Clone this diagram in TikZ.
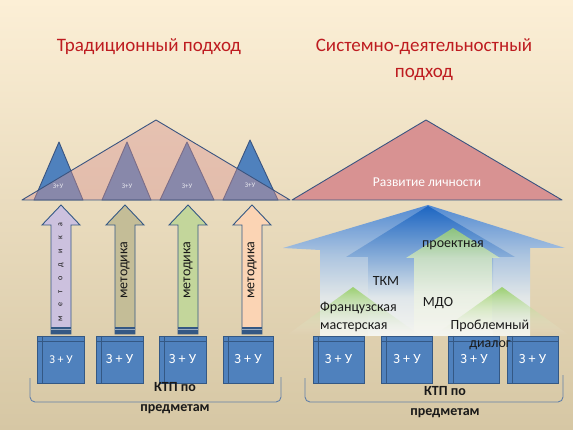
\documentclass[tikz,border=0pt]{standalone}
\usepackage{fontspec}
\setmainfont{Carlito}
\usetikzlibrary{fadings}
\tikzfading[name=fadedown, top color=transparent!0, bottom color=transparent!100]
\definecolor{bgtop}{RGB}{252,239,214}
\definecolor{bgmid}{RGB}{243,229,200}
\definecolor{bgbot}{RGB}{214,199,164}
\definecolor{titlered}{RGB}{190,28,32}
\definecolor{pinkred}{RGB}{216,146,146}
\definecolor{edgeblue}{RGB}{58,84,128}
\definecolor{boxblue}{RGB}{79,129,189}
\definecolor{boxedge}{RGB}{52,88,132}
\definecolor{lav}{RGB}{204,193,222}
\definecolor{khaki}{RGB}{196,189,151}
\definecolor{lgreen}{RGB}{195,214,155}
\definecolor{lpeach}{RGB}{251,212,180}
\definecolor{brk}{RGB}{98,128,168}
\definecolor{blueA}{RGB}{70,132,212}
\definecolor{blueB}{RGB}{20,96,192}
\definecolor{greenA}{RGB}{146,206,92}
\definecolor{paleend}{RGB}{246,246,240}
\definecolor{darktext}{RGB}{25,25,25}
\pgfdeclareverticalshading{bluefanA}{100bp}{color(0bp)=(paleend); color(25bp)=(paleend); color(40bp)=(blueA!12!paleend); color(56bp)=(blueA!45!paleend); color(75bp)=(blueA); color(100bp)=(blueA)}
\pgfdeclareverticalshading{bluefanB}{100bp}{color(0bp)=(paleend); color(25bp)=(paleend); color(40bp)=(blueB!10!paleend); color(53bp)=(blueB!45!paleend); color(75bp)=(blueB); color(100bp)=(blueB)}
\pgfdeclareverticalshading{greenfan}{100bp}{color(0bp)=(paleend); color(25bp)=(paleend); color(45bp)=(greenA!10!paleend); color(61bp)=(greenA!32!paleend); color(75bp)=(greenA!90!paleend); color(100bp)=(greenA!90!paleend)}
\begin{document}
\begin{tikzpicture}[x=1pt,y=-1pt,
  titletext/.style={text=titlered, font=\fontsize{19}{26}\selectfont, align=center, inner sep=0pt},
  smalltri/.style={draw=edgeblue, fill=boxblue, line width=0.9pt, line join=round},
  bigtri/.style={draw=edgeblue, line width=0.9pt, line join=round},
  uparrow/.style={draw=boxedge, line width=0.9pt, line join=miter},
  arrowtext/.style={rotate=90, font=\fontsize{14}{16}\selectfont, text=darktext, inner sep=0pt},
  zubox/.style={draw=boxedge, fill=boxblue, line width=0.8pt, minimum width=47pt, minimum height=47pt,
    inner sep=0pt, text=white, font=\fontsize{14}{16}\selectfont,
    path picture={
      \draw[boxedge, line width=0.7pt] ([yshift=-5pt]path picture bounding box.north west) -- ([yshift=-5pt]path picture bounding box.north east);
      \draw[boxedge, line width=0.7pt] ([xshift=5pt]path picture bounding box.north west) -- ([xshift=5pt]path picture bounding box.south west);}},
  tinylabel/.style={text=white, text opacity=0.8, font=\fontsize{7}{8}\selectfont, inner sep=0pt},
  righttext/.style={text=darktext, font=\fontsize{14}{18}\selectfont, inner sep=0pt},
  bracetext/.style={text=darktext, font=\bfseries\fontsize{14}{20}\selectfont, align=center, inner sep=0pt},
  bracket/.style={draw=brk, line width=0.9pt, rounded corners=5pt}
]
\useasboundingbox (0,0) rectangle (573,430);
% background
\shade[top color=bgtop, middle color=bgmid, bottom color=bgbot] (0,0) rectangle (573,430);

% titles
\node[titletext] (tleft) at (149,47) {Традиционный подход};
\node[titletext] (tright) at (424,60) {Системно-деятельностный\\подход};

% ---------- left side ----------
\foreach \a/\l/\r/\ay in {59/34/83/142, 127/102/151/142, 187/160/214/142, 250/223/278/140}
  \draw[smalltri] (\l,200) -- (\a,\ay) -- (\r,200) -- cycle;
\draw[bigtri, fill=pinkred, fill opacity=0.42] (22,200) -- (156,120) -- (290,200) -- cycle;
\node[tinylabel] (z1) at (58,186) {З+У};
\node[tinylabel] (z2) at (127,186) {З+У};
\node[tinylabel] (z3) at (187,186) {З+У};
\node[tinylabel] (z4) at (250,185) {З+У};

% up arrows
\foreach \c/\col in {61/lav, 125/khaki, 188/lgreen, 252/lpeach}{
  \draw[uparrow, fill=\col] (\c,205) -- (\c+19,225) -- (\c+10,225) -- (\c+10,334) -- (\c-10,334) -- (\c-10,225) -- (\c-19,225) -- cycle;
  \fill[boxedge] (\c-10,327) rectangle (\c+10,334);
  \draw[white, opacity=0.5, line width=0.5pt] (\c-10,329.5) -- (\c+10,329.5);
}
\node[rotate=90, text=darktext, inner sep=0pt, font={\fontsize{8}{9}\selectfont\spaceskip=9.5pt\relax}] (m1) at (61,272) {м е т о д и к а};
\node[arrowtext] (m2) at (125,270) {методика};
\node[arrowtext] (m3) at (188,270) {методика};
\node[arrowtext] (m4) at (252,270) {методика};

% boxes left
\node[zubox, font=\fontsize{12}{14}\selectfont] (bl1) at (61,359.5) {З + У};
\node[zubox] (bl2) at (119.5,359.5) {З + У};
\node[zubox] (bl3) at (182.5,359.5) {З + У};
\node[zubox, minimum width=50pt] (bl4) at (248,359.5) {З + У};

% bracket left
\coordinate (bla) at (30,378);
\coordinate (blb) at (30,402);
\coordinate (blc) at (281,402);
\coordinate (bld) at (281,377);
\draw[bracket] (bla) -- (blb) -- (blc) -- (bld);
\node[bracetext] (kl) at (175,398) {КТП по\\предметам};

% ---------- right side ----------
\draw[bigtri, fill=pinkred] (292,200) -- (426,120) -- (562,200) -- cycle;
\node[text=white, font=\fontsize{13.5}{16}\selectfont, inner sep=0pt] (razv) at (427,182) {Развитие личности};

% blue arrows
\shade[shading=bluefanA, opacity=0.92]
  (428,205) -- (565,248) -- (530,248) -- (530,336) -- (320,336) -- (320,250) -- (283,248) -- cycle;
\shade[shading=bluefanB, opacity=0.85]
  (428,206) -- (515,257) -- (493,257) -- (493,336) -- (368,336) -- (368,257) -- (346,257) -- cycle;
% green arrows
\shade[shading=greenfan, opacity=0.8]
  (453,228) -- (500,258) -- (492,258) -- (492,336) -- (414,336) -- (414,258) -- (406,258) -- cycle;
\shade[top color=greenA, bottom color=paleend, path fading=fadedown, opacity=0.85]
  (353,287) -- (419,335) -- (287,335) -- cycle;
\shade[top color=greenA, bottom color=paleend, path fading=fadedown, opacity=0.85]
  (502,287) -- (569,335) -- (435,335) -- cycle;

% right texts
\node[righttext] (pr) at (453,245) {проектная};
\node[righttext] (tkm) at (386,281) {ТКМ};
\node[righttext, align=left, anchor=west] (fr) at (320,317) {Французская\\мастерская};
\node[righttext] (mdo) at (438,303) {МДО};

% boxes right
\node[zubox, minimum width=51pt] (br1) at (338.5,359.5) {З + У};
\node[zubox, minimum width=51pt] (br2) at (407,359.5) {З + У};
\node[zubox, minimum width=51pt] (br3) at (474,359.5) {З + У};
\node[zubox, minimum width=51pt] (br4) at (532.5,359.5) {З + У};

\node[righttext, align=center] (pd) at (490,334.5) {Проблемный\\диалог};

% bracket right
\coordinate (bra) at (305,378);
\coordinate (brb) at (305,402);
\coordinate (brc) at (563,402);
\coordinate (brd) at (563,375);
\draw[bracket] (bra) -- (brb) -- (brc) -- (brd);
\node[bracetext] (kr) at (445,402) {КТП по\\предметам};
\end{tikzpicture}
\end{document}
